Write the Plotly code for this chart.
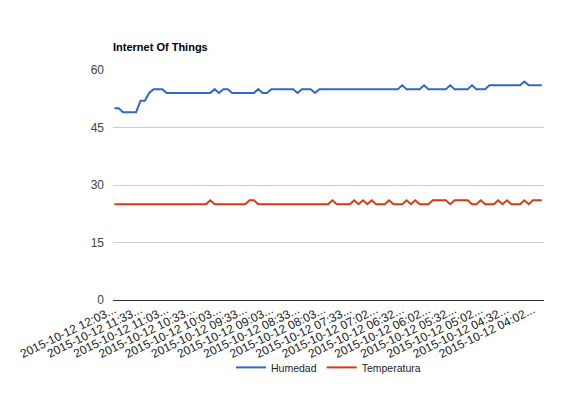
import plotly.graph_objects as go

title_text = "Internet Of Things"

tick_labels = [
    "2015-10-12 12:03...", "2015-10-12 11:33...", "2015-10-12 11:03...",
    "2015-10-12 10:33...", "2015-10-12 10:03...", "2015-10-12 09:33...",
    "2015-10-12 09:03...", "2015-10-12 08:33...", "2015-10-12 08:03...",
    "2015-10-12 07:33...", "2015-10-12 07:02...", "2015-10-12 06:32...",
    "2015-10-12 06:02...", "2015-10-12 05:32...", "2015-10-12 05:02...",
    "2015-10-12 04:32...", "2015-10-12 04:02...",
]
label_every = 6

humedad = [
    50, 50, 49, 49, 49, 49, 52, 52, 54, 55,
    55, 55, 54, 54, 54, 54, 54, 54, 54, 54,
    54, 54, 54, 55, 54, 55, 55, 54, 54, 54,
    54, 54, 54, 55, 54, 54, 55, 55, 55, 55,
    55, 55, 54, 55, 55, 55, 54, 55, 55, 55,
    55, 55, 55, 55, 55, 55, 55, 55, 55, 55,
    55, 55, 55, 55, 55, 55, 56, 55, 55, 55,
    55, 56, 55, 55, 55, 55, 55, 56, 55, 55,
    55, 55, 56, 55, 55, 55, 56, 56, 56, 56,
    56, 56, 56, 56, 57, 56, 56, 56, 56,
]

temperatura = [
    25, 25, 25, 25, 25, 25, 25, 25, 25, 25,
    25, 25, 25, 25, 25, 25, 25, 25, 25, 25,
    25, 25, 26, 25, 25, 25, 25, 25, 25, 25,
    25, 26, 26, 25, 25, 25, 25, 25, 25, 25,
    25, 25, 25, 25, 25, 25, 25, 25, 25, 25,
    26, 25, 25, 25, 25, 26, 25, 26, 25, 26,
    25, 25, 25, 26, 25, 25, 25, 26, 25, 26,
    25, 25, 25, 26, 26, 26, 26, 25, 26, 26,
    26, 26, 25, 25, 26, 25, 25, 25, 26, 25,
    26, 25, 25, 25, 26, 25, 26, 26, 26,
]

y_ticks = [0, 15, 30, 45, 60]

idx = list(range(len(humedad)))
tickvals = [i * label_every for i in range(len(tick_labels))]

FONT = "Arial, 'Liberation Sans', sans-serif"

# The page body has an 8px default margin; size the figure to fill the rest.
W, H, OFF = 560, 401, 8

fig = go.Figure()
fig.add_trace(go.Scatter(x=idx, y=humedad, mode="lines", name="Humedad",
                         line=dict(color="#3366cc", width=2)))
fig.add_trace(go.Scatter(x=idx, y=temperatura, mode="lines", name="Temperatura",
                         line=dict(color="#dc3912", width=2)))

fig.update_layout(
    width=W, height=H,
    margin=dict(l=113 - OFF, r=24, t=70 - OFF, b=109),
    paper_bgcolor="white", plot_bgcolor="white",
    font=dict(family=FONT, size=11, color="#444"),
    title=dict(text="<b>" + title_text + "</b>", x=(113 - OFF) / W, xanchor="left",
               y=1 - (47 - OFF) / H, yanchor="middle",
               font=dict(family=FONT, size=11, color="#000")),
    showlegend=True,
    legend=dict(orientation="h", x=0.5, xanchor="center", y=-0.23, yanchor="top",
                font=dict(family=FONT, size=10.5, color="#222"),
                itemwidth=30, bgcolor="rgba(0,0,0,0)"),
    xaxis=dict(range=[-0.3, 98.5], tickvals=tickvals, ticktext=tick_labels,
               tickangle=-26, showgrid=False, zeroline=False, showline=False,
               ticks="", tickfont=dict(family=FONT, size=12, color="#222"),
               automargin=False, fixedrange=True),
    yaxis=dict(range=[0, 60], tickvals=y_ticks, showgrid=True, gridcolor="#cccccc",
               gridwidth=1, zeroline=True, zerolinecolor="#333333", zerolinewidth=1,
               showline=False, ticks="", ticklabelstandoff=8, automargin=False,
               tickfont=dict(family=FONT, size=12, color="#444"), fixedrange=True),
)

fig.write_html("out.html")
